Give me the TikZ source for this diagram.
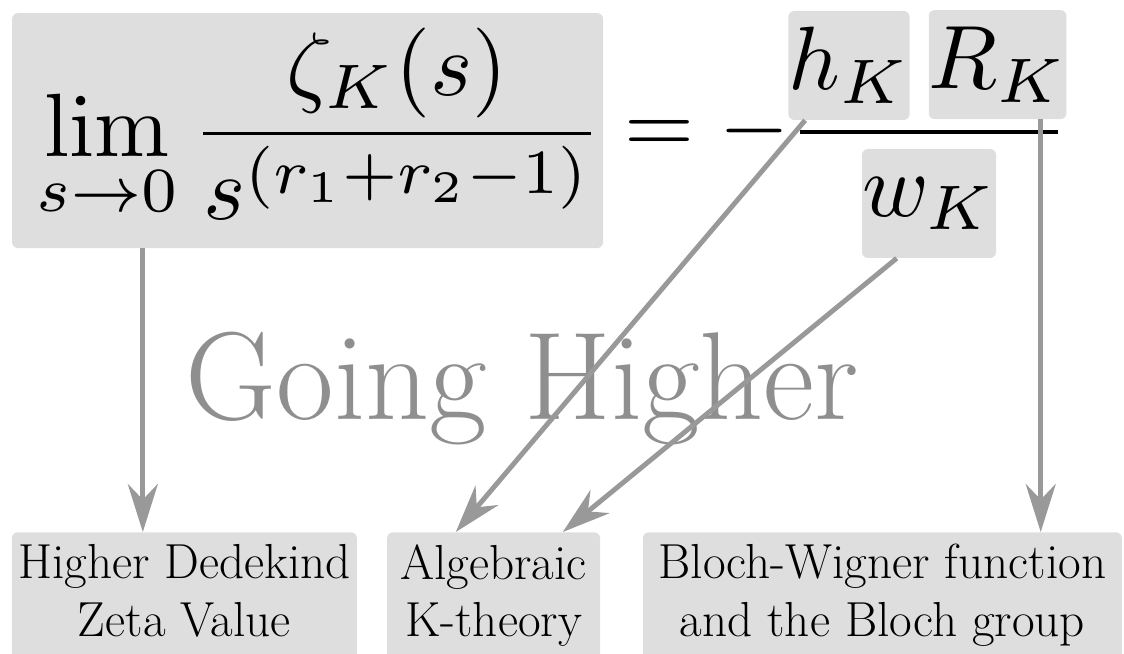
\documentclass[tikz,border=0pt]{standalone}
\usepackage{amsmath}
\definecolor{boxc}{HTML}{DEDEDE}
\definecolor{arrc}{HTML}{999999}
\definecolor{ghost}{HTML}{8F8F8F}
\usetikzlibrary{arrows.meta,positioning,calc}
\newcommand{\formula}[1]{\scalebox{6.4}{$\displaystyle #1$}}

\begin{document}
\begin{tikzpicture}[every node/.style={inner sep=0pt}]
\tikzstyle{hl}=[rounded corners=1.5mm,fill=boxc]
\tikzstyle{topic}=[rounded corners=1.5mm,fill=boxc,anchor=north,align=center,inner xsep=1mm,inner ysep=3mm,font=\fontsize{35}{41}\selectfont]
\tikzstyle{arr}=[arrc,line width=3.5pt,-{Stealth[length=12mm,width=7.5mm]}]
\useasboundingbox (0,0) rectangle (28.1,16.325);
% the formula
\node[hl,minimum width=14.775cm,minimum height=5.875cm] (limit) at (7.69,13.06) {};
\node (limitf) at ([xshift=0.28cm,yshift=0.16cm]limit.center) {\formula{\lim_{s\to0}\frac{\zeta_K(s)}{s^{(r_1+r_2-1)}}}};
\node (eq) at (17.675,13.05) {\formula{=-\vphantom{(}}};
\node[hl,minimum width=2.9cm,minimum height=2.725cm] (hK) at (21.225,14.6875) {\formula{h_K}};
\node[hl,minimum width=3.325cm,minimum height=2.725cm] (RK) at (24.94,14.71) {\formula{R_K}};
\node[hl,minimum width=3.35cm,minimum height=2.725cm] (wK) at (23.225,11.2375) {\formula{w_K}};
\coordinate (barL) at (20.0,13.025);
\coordinate (barR) at (26.45,13.025);
\draw[line width=2.6pt] (barL) -- (barR);
% title
\node[text=ghost,font=\fontsize{89}{96}\selectfont,anchor=base] (title) at (13.06,5.85) {Going Higher};
% topics
\node[topic,minimum width=8.625cm] (zeta) at (4.61,3.025) {Higher Dedekind\\Zeta Value\strut};
\node[topic,minimum width=5.325cm] (ktheory) at (12.34,3.025) {Algebraic\\K-theory\strut};
\node[topic,minimum width=11.975cm] (bloch) at (22.06,3.025) {Bloch-Wigner function\\and the Bloch group\strut};
% arrows
\draw[arr] ($(limit.south west)+(3.275,0)$) -- ($(limit.south west|-zeta.north)+(3.275,0)$);
\draw[arr] ($(hK.south west)+(0.425,0)$) -- ($(ktheory.north west)+(1.725,0)$);
\draw[arr] ($(wK.south west)+(0.875,0)$) -- ($(ktheory.north west)+(4.4,0)$);
\draw[arr] ($(RK.south east)+(-0.65,0)$) -- ($(RK.south east|-bloch.north)+(-0.65,0)$);
\end{tikzpicture}
\end{document}
